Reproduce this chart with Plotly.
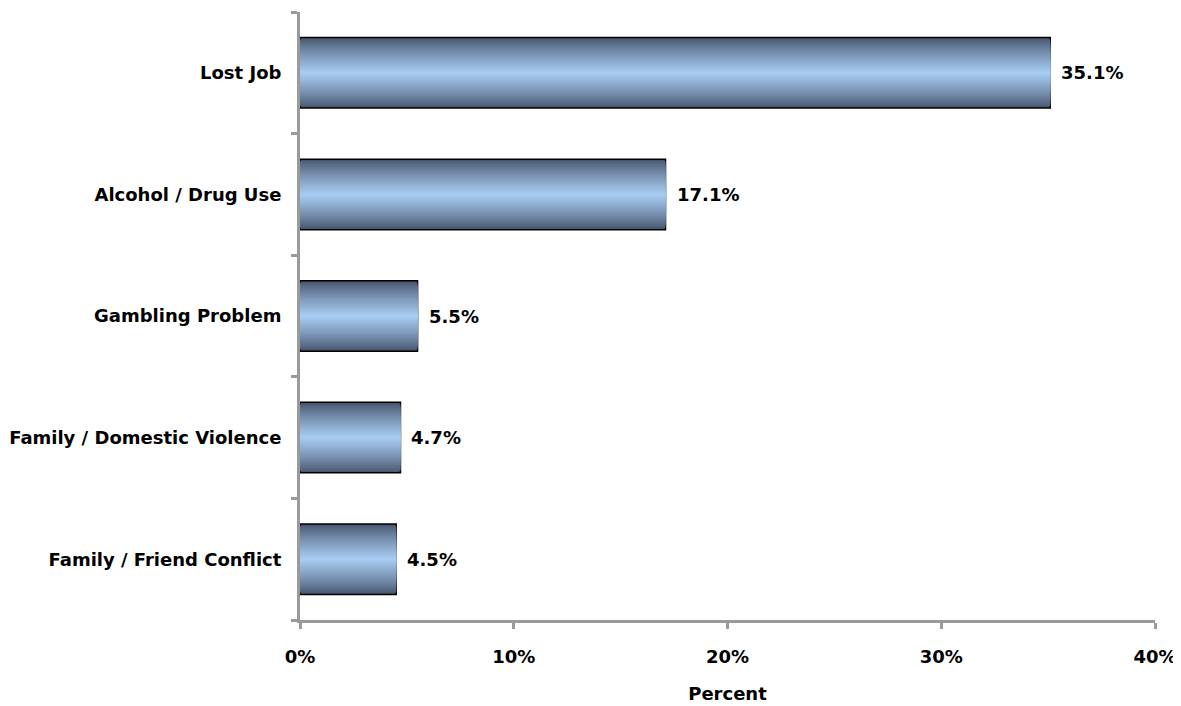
import plotly.graph_objects as go

categories = ["Lost Job", "Alcohol / Drug Use", "Gambling Problem",
              "Family / Domestic Violence", "Family / Friend Conflict"]
values = [35.1, 17.1, 5.5, 4.7, 4.5]
value_labels = ["35.1%", "17.1%", "5.5%", "4.7%", "4.5%"]
x_tick_vals = [0, 10, 20, 30, 40]
x_tick_text = ["0%", "10%", "20%", "30%", "40%"]

FONT = "DejaVu Sans"
FS = 18
BAR_W = 0.58
N = 18
dark = (72, 86, 110)
light = (166, 202, 240)


def mix(t):
    return "rgb(%d,%d,%d)" % tuple(round(d + (l - d) * t) for d, l in zip(dark, light))


fig = go.Figure()
for k in range(N):
    frac = k / (N - 1)
    w = BAR_W * (1 - k / N)
    t = frac ** 0.85
    first = k == 0
    fig.add_trace(go.Bar(
        x=values, y=categories, orientation="h",
        width=BAR_W if first else w,
        marker=dict(color=mix(t),
                    line=dict(color="black", width=1.5 if first else 0)),
        showlegend=False, hoverinfo="skip",
    ))

for v, c, lab in zip(values, categories, value_labels):
    fig.add_annotation(x=v, y=c, text=lab, showarrow=False,
                       xanchor="left", yanchor="middle", xshift=9,
                       font=dict(family=FONT, size=FS, color="black", weight="bold"))

fig.update_layout(
    width=1181, height=706, barmode="overlay",
    margin=dict(l=292, r=34, t=4, b=94),
    plot_bgcolor="white", paper_bgcolor="white",
    font=dict(family=FONT, size=FS, color="black"),
)
fig.update_xaxes(
    range=[0, 40], tickvals=x_tick_vals, ticktext=x_tick_text,
    automargin=False,
    showgrid=False, zeroline=False,
    showline=True, linecolor="#9a9a9a", linewidth=3,
    ticks="outside", ticklen=6, tickwidth=3, tickcolor="#9a9a9a",
    tickfont=dict(family=FONT, size=FS, weight="bold"),
    ticklabelstandoff=12,
    title=dict(text="Percent", font=dict(family=FONT, size=FS, weight="bold"), standoff=22),
)
fig.update_yaxes(
    categoryorder="array", categoryarray=categories[::-1],
    automargin=False,
    tickson="boundaries", showgrid=False, zeroline=False,
    showline=True, linecolor="#9a9a9a", linewidth=3,
    ticks="outside", ticklen=6, tickwidth=3, tickcolor="#9a9a9a",
    tickfont=dict(family=FONT, size=FS, weight="bold"),
    ticklabelstandoff=12,
)
fig.write_html("out.html")
